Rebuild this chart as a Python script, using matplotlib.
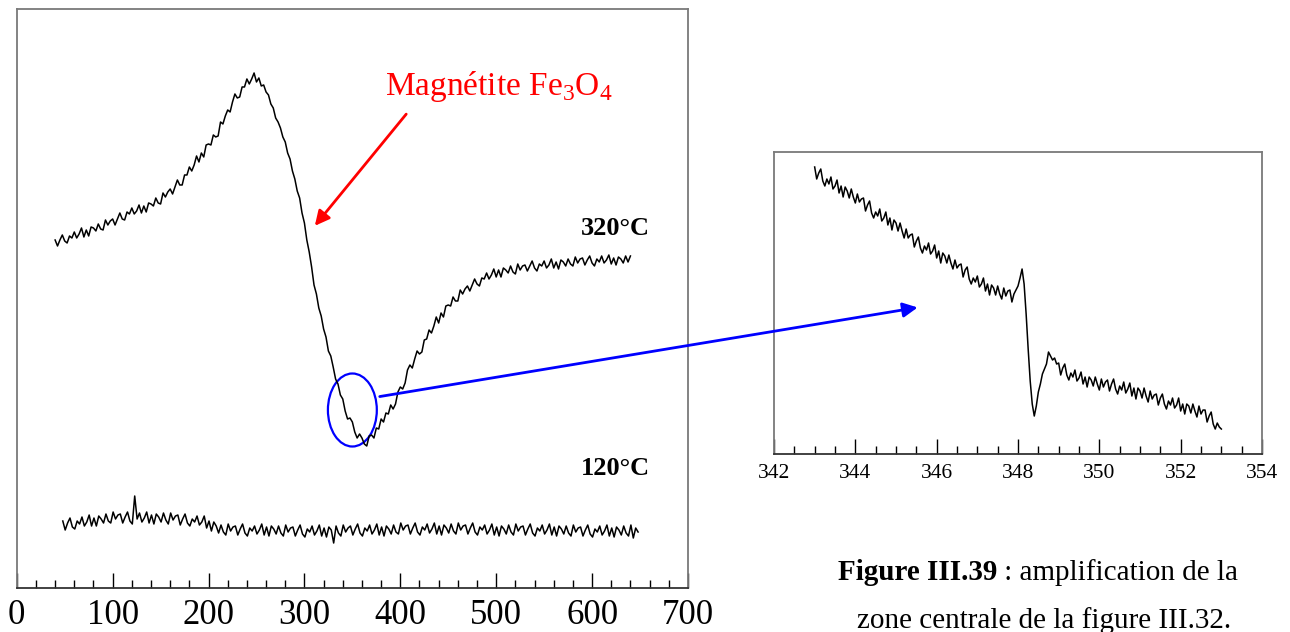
import numpy as np
import matplotlib.pyplot as plt
from matplotlib.patches import Ellipse
from matplotlib.ticker import MultipleLocator

plt.rcParams['font.family'] = 'Liberation Serif'
plt.rcParams['mathtext.fontset'] = 'custom'
plt.rcParams['mathtext.rm'] = 'Liberation Serif'

# spectre 320°C, relevé tous les 2.5 à partir de 40
y_320 = [348, 342, 348, 353, 347, 345, 352, 350, 356, 350,
         354, 360, 351, 358, 352, 361, 360, 357, 364, 359,
         358, 368, 363, 367, 369, 363, 369, 375, 369, 368,
         376, 374, 380, 374, 377, 383, 375, 382, 376, 385,
         384, 382, 390, 385, 384, 395, 391, 396, 399, 394,
         401, 408, 403, 403, 413, 413, 421, 417, 423, 432,
         426, 435, 431, 443, 444, 443, 453, 451, 452, 466,
         464, 472, 478, 476, 486, 494, 490, 491, 501, 501,
         509, 504, 509, 515, 506, 510, 502, 503, 496, 493,
         484, 480, 470, 466, 460, 451, 446, 435, 429, 417,
         409, 397, 390, 375, 365, 348, 336, 321, 303, 294,
         280, 272, 259, 251, 237, 232, 221, 209, 204, 193,
         189, 177, 169, 170, 166, 156, 150, 154, 150, 144,
         142, 152, 153, 150, 160, 159, 169, 166, 175, 174,
         183, 179, 184, 196, 201, 199, 205, 218, 223, 220,
         229, 237, 234, 236, 248, 249, 258, 255, 262, 271,
         265, 275, 271, 282, 283, 282, 291, 287, 287, 298,
         294, 299, 302, 297, 303, 309, 304, 302, 310, 309,
         315, 309, 313, 319, 311, 318, 311, 320, 318, 315,
         322, 316, 314, 324, 318, 322, 323, 317, 322, 327,
         320, 317, 324, 322, 327, 320, 323, 329, 320, 326,
         319, 328, 326, 322, 329, 324, 322, 331, 325, 329,
         330, 323, 328, 332, 325, 322, 329, 326, 332, 325,
         328, 333, 324, 330, 323, 331, 329, 325, 332, 326,
         332]
x_320 = 40 + 2.5 * np.arange(len(y_320))

# spectre 120°C, relevé tous les 2.5 à partir de 48
y_120 = [67, 58, 65, 70, 61, 59, 67, 64, 71, 62,
         66, 73, 62, 70, 62, 72, 69, 65, 74, 67,
         65, 76, 69, 73, 74, 65, 71, 76, 67, 64,
         92, 69, 75, 66, 70, 76, 65, 73, 64, 74,
         71, 66, 75, 68, 64, 75, 68, 72, 73, 63,
         69, 74, 65, 62, 69, 66, 72, 63, 66, 72,
         60, 67, 57, 66, 62, 55, 63, 56, 53, 64,
         57, 61, 62, 53, 59, 64, 55, 52, 60, 57,
         62, 54, 58, 64, 53, 61, 52, 62, 59, 54,
         62, 55, 52, 63, 56, 60, 61, 52, 58, 63,
         54, 51, 59, 56, 62, 53, 57, 63, 52, 60,
         51, 61, 58, 45, 62, 55, 52, 63, 56, 60,
         62, 53, 59, 64, 55, 52, 60, 57, 63, 54,
         58, 64, 53, 61, 52, 62, 59, 54, 63, 56,
         54, 65, 58, 62, 63, 54, 60, 65, 56, 53,
         61, 58, 64, 55, 59, 65, 54, 62, 53, 63,
         60, 55, 64, 57, 54, 65, 58, 62, 63, 54,
         60, 65, 56, 53, 61, 58, 63, 54, 58, 64,
         53, 61, 52, 62, 59, 54, 63, 56, 53, 64,
         57, 61, 62, 53, 59, 64, 55, 52, 60, 57,
         63, 54, 58, 64, 53, 61, 52, 62, 59, 54,
         62, 55, 52, 63, 56, 60, 61, 52, 58, 63,
         54, 51, 59, 56, 62, 53, 57, 63, 52, 60,
         51, 61, 58, 53, 62, 55, 52, 63, 50, 60,
         56]
x_120 = 48 + 2.5 * np.arange(len(y_120))

# agrandissement 343 -> 353, relevé tous les 0.05
y_zoom = [287, 275, 281, 285, 273, 268, 275, 270, 277, 265,
          268, 274, 261, 268, 257, 267, 263, 256, 265, 257,
          251, 260, 252, 255, 256, 243, 249, 253, 241, 236,
          242, 238, 245, 233, 236, 242, 229, 236, 224, 234,
          231, 223, 231, 223, 216, 225, 216, 219, 220, 207,
          213, 217, 206, 201, 208, 204, 211, 200, 203, 209,
          196, 203, 191, 201, 198, 191, 199, 191, 185, 194,
          186, 189, 190, 177, 184, 187, 175, 170, 176, 172,
          178, 167, 170, 176, 163, 170, 159, 169, 166, 159,
          168, 160, 155, 166, 158, 163, 164, 152, 160, 164,
          168, 176, 185, 170, 140, 105, 73, 50, 38, 48,
          62, 70, 80, 85, 90, 102, 98, 94, 96, 90,
          91, 79, 86, 90, 79, 74, 81, 77, 84, 73,
          76, 82, 70, 77, 67, 77, 74, 68, 77, 70,
          64, 75, 67, 72, 74, 63, 70, 75, 65, 60,
          68, 64, 72, 61, 65, 71, 58, 66, 55, 66,
          63, 56, 66, 58, 52, 63, 55, 59, 60, 49,
          56, 60, 50, 45, 53, 49, 56, 46, 49, 56,
          43, 50, 40, 50, 48, 41, 50, 43, 37, 48,
          40, 44, 44, 32, 38, 42, 30, 25, 31, 27,
          25]
x_zoom = 343 + 0.05 * np.arange(len(y_zoom))

fig = plt.figure(figsize=(12.9, 6.32), dpi=100)

ax = fig.add_axes([0.013, 0.0696, 0.5203, 0.9162])
ax.plot(x_320, y_320, color='black', lw=1.1)
ax.plot(x_120, y_120, color='black', lw=1.1)
ax.set_xlim(0, 700)
ax.set_ylim(0, 579)
ax.xaxis.set_major_locator(MultipleLocator(100))
ax.xaxis.set_minor_locator(MultipleLocator(20))
ax.set_yticks([])
ax.tick_params(axis='x', which='major', direction='in', length=11, width=1, labelsize=25, pad=8)
ax.tick_params(axis='x', which='minor', direction='in', length=5.5, width=1)

ax.text(384, 493, 'Magnétite Fe$_\\mathregular{3}$O$_\\mathregular{4}$', color='red',
        fontsize=24, ha='left', va='baseline')
ax.annotate('', xy=(309, 360), xytext=(408, 476),
            arrowprops=dict(arrowstyle='-|>', color='red', lw=2, mutation_scale=22))
ax.text(660, 353, '320°C', fontsize=19, fontweight='bold', ha='right', va='baseline')
ax.text(660, 113, '120°C', fontsize=19, fontweight='bold', ha='right', va='baseline')
ax.add_patch(Ellipse((350, 178), 51, 73, fill=False, edgecolor='blue', lw=1.6))

ax_in = fig.add_axes([0.6, 0.2816, 0.3783, 0.4779])
ax_in.plot(x_zoom, y_zoom, color='black', lw=1.1)
ax_in.set_xlim(342, 354)
ax_in.set_ylim(0, 302)
ax_in.xaxis.set_major_locator(MultipleLocator(2))
ax_in.xaxis.set_minor_locator(MultipleLocator(0.5))
ax_in.set_yticks([])
ax_in.tick_params(axis='x', which='major', direction='in', length=11, width=1, labelsize=15.5, pad=7)
ax_in.tick_params(axis='x', which='minor', direction='in', length=5.5, width=1)

for a in (ax, ax_in):
    for s in ('left', 'top', 'right'):
        a.spines[s].set_color('#7a7a7a')
        a.spines[s].set_linewidth(1.3)
    a.spines['bottom'].set_color('#333333')
    a.spines['bottom'].set_linewidth(1.3)

ax_in.annotate('', xy=(345.6, 147), xycoords='data',
               xytext=(375.7, 191), textcoords=ax.transData,
               arrowprops=dict(arrowstyle='-|>', color='blue', lw=2, mutation_scale=22),
               annotation_clip=False)

# légende sous l'agrandissement
t1 = fig.text(838 / 1290, 0.0823, 'Figure III.39', fontsize=21, fontweight='bold',
              ha='left', va='baseline')
fig.canvas.draw()
bb = t1.get_window_extent()
fig.text(bb.x1 / fig.bbox.width, 0.0823, ' : amplification de la',
         fontsize=21, ha='left', va='baseline')
fig.text(1044 / 1290, 0.0063, 'zone centrale de la figure III.32.',
         fontsize=21, ha='center', va='baseline')

fig.savefig('out.png', dpi=100)
